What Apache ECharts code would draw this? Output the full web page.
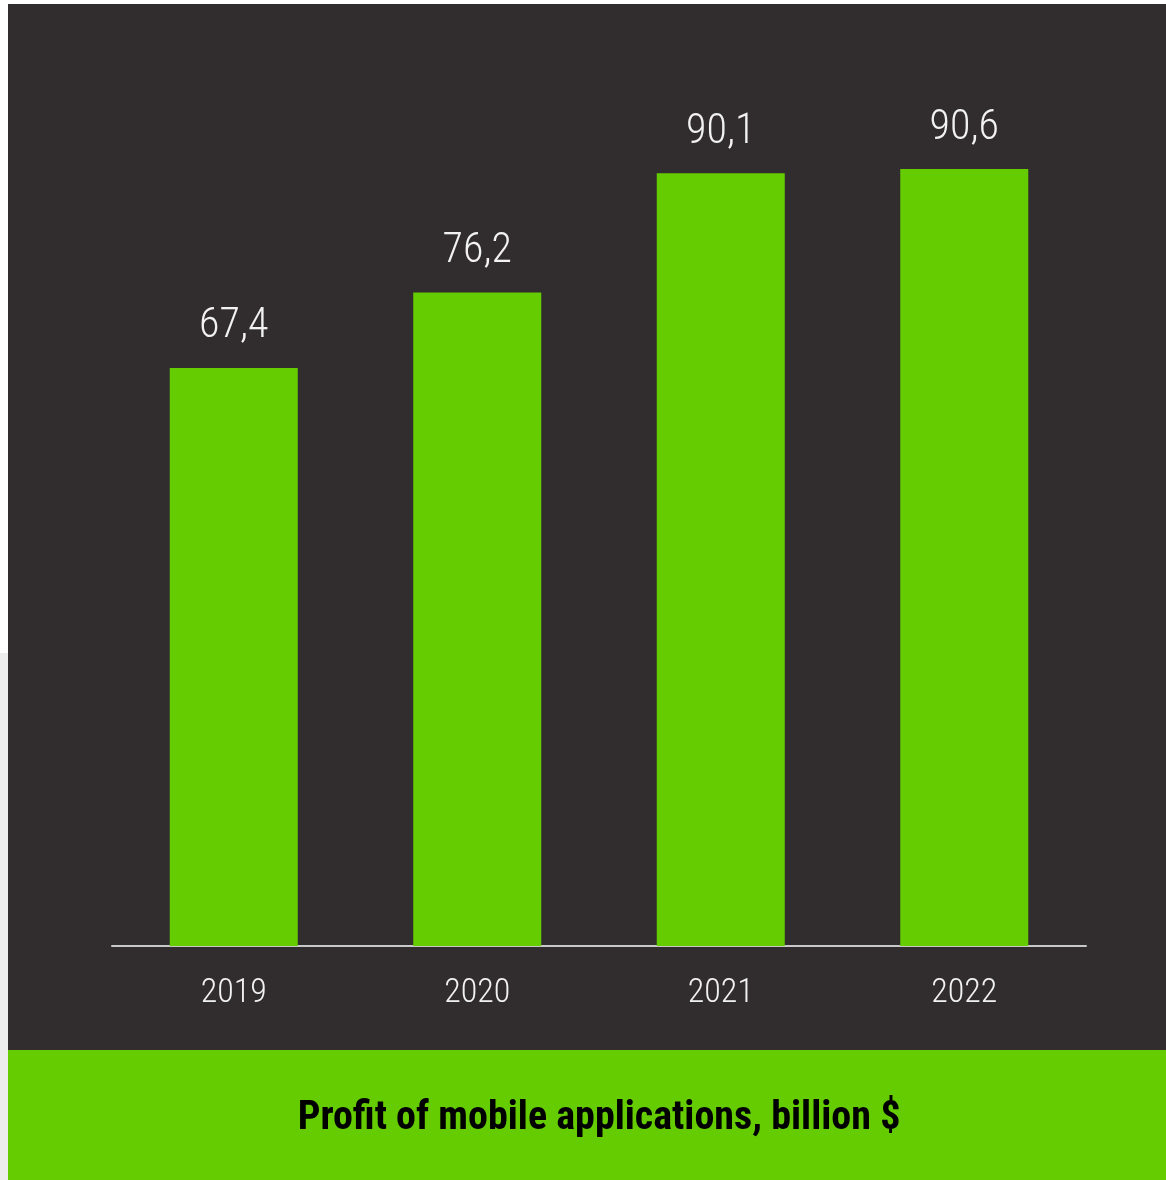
<!DOCTYPE html>
<html>
<head>
<meta charset="utf-8">
<script src="https://cdn.jsdelivr.net/npm/echarts@6/dist/echarts.min.js"></script>
<style>
html,body{margin:0;padding:0;background:#ffffff;}
#chart{width:1166px;height:1180px;}
</style>
</head>
<body>
<div id="chart"></div>
<script>
const categories = ['2019', '2020', '2021', '2022'];
const profitValues = [67.4, 76.2, 90.1, 90.6];
const titleText = 'Profit of mobile applications, billion $';

const chart = echarts.init(document.getElementById('chart'));
const condensed = '"Roboto Condensed", "DejaVu Sans Condensed", sans-serif';
chart.setOption({
  backgroundColor: 'transparent',
  animation: false,
  graphic: [
    { type: 'rect', z: -10, shape: { x: 0, y: 653, width: 8, height: 527 }, style: { fill: '#ededed' } },
    { type: 'rect', z: -10, shape: { x: 8, y: 4, width: 1158, height: 1046 }, style: { fill: '#312d2f' } },
    { type: 'rect', z: -10, shape: { x: 8, y: 1050, width: 1158, height: 130 }, style: { fill: '#64cc00' } }
  ],
  title: {
    text: titleText,
    left: 594,
    top: 1094,
    textAlign: 'center',
    textStyle: { fontFamily: condensed, fontWeight: 'bold', fontSize: 40, color: '#000000' }
  },
  grid: { left: 112, right: 80, top: 88.4, bottom: 234, containLabel: false },
  xAxis: {
    type: 'category',
    data: categories,
    axisLine: { show: true, lineStyle: { color: '#c8c8c8', width: 2 } },
    axisTick: { show: false },
    axisLabel: { color: '#f2f2f2', fontFamily: condensed, fontWeight: 300, fontSize: 34, margin: 30 }
  },
  yAxis: {
    type: 'value',
    min: 0,
    max: 100,
    show: false,
    splitLine: { show: false }
  },
  series: [{
    type: 'bar',
    data: profitValues,
    barWidth: 128,
    itemStyle: { color: '#64cc00' },
    label: {
      show: true,
      position: 'top',
      distance: 20,
      color: '#f2f2f2',
      fontFamily: condensed,
      fontWeight: 300,
      fontSize: 42,
      formatter: p => String(p.value).replace('.', ',')
    }
  }]
});
</script>
</body>
</html>
